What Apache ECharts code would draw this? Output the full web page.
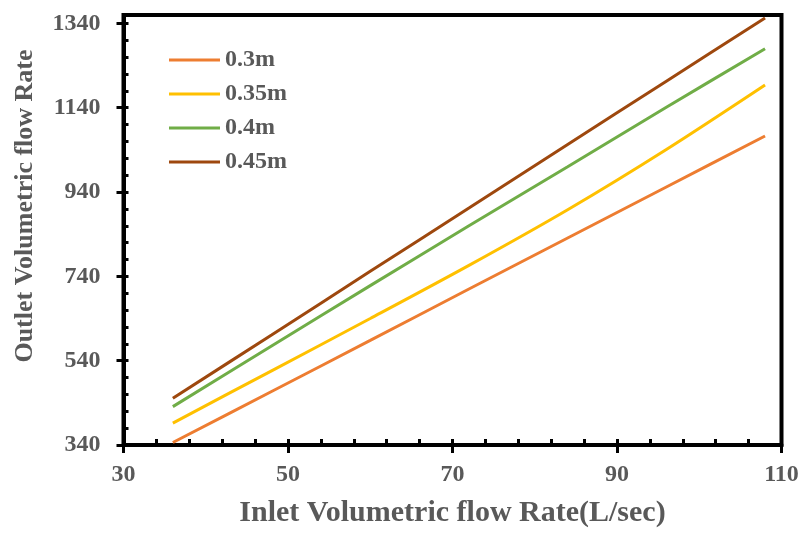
<!DOCTYPE html>
<html><head><meta charset="utf-8">
<script src="https://cdn.jsdelivr.net/npm/echarts@6/dist/echarts.min.js"></script>
<style>html,body{margin:0;padding:0;background:#fff}#c{width:803px;height:533px}</style>
</head><body><div id="c"></div>
<script>
const xValues = [36, 48, 60, 72, 84, 96, 108];
const s030 = [346, 467, 588, 710, 831, 952, 1073];
const s035 = [392, 516, 640, 766, 898, 1041, 1194];
const s040 = [431, 575, 718, 860, 1000, 1141, 1280];
const s045 = [451, 601, 752, 902, 1053, 1203, 1353];
const seriesNames = ['0.3m', '0.35m', '0.4m', '0.45m'];
const seriesColors = ['#ED7D31', '#FFC000', '#70AD47', '#9E480E'];
const xTicks = [30, 50, 70, 90, 110];
const yTicks = [340, 540, 740, 940, 1140, 1340];
const xTitle = 'Inlet Volumetric flow Rate(L/sec)';
const yTitle = 'Outlet Volumetric flow Rate';

const font = 'Liberation Serif';
const grey = '#595959';
const allData = [s030, s035, s040, s045];

const chart = echarts.init(document.getElementById('c'));
chart.setOption({
  animation: false,
  backgroundColor: '#fff',
  grid: { left: 123.5, right: 21.5, top: 15, bottom: 86, show: true, borderColor: '#000', borderWidth: 4, backgroundColor: 'transparent' },
  legend: {
    left: 164, top: 43, orient: 'vertical', icon: 'rect', itemWidth: 51, itemHeight: 3, itemGap: 10,
    textStyle: { fontFamily: font, fontWeight: 'bold', fontSize: 24, color: grey, lineHeight: 24 },
    data: seriesNames
  },
  xAxis: [{
    type: 'value', position: 'bottom', min: xTicks[0], max: xTicks[xTicks.length - 1], interval: 20,
    splitLine: { show: false },
    axisLine: { lineStyle: { color: '#000', width: 4 } },
    axisTick: { inside: false, length: 8, lineStyle: { color: '#000', width: 3 }, customValues: xTicks },
    axisLabel: { margin: 18, fontFamily: font, fontWeight: 'bold', fontSize: 24, color: grey, customValues: xTicks, formatter: v => String(v) },
    name: xTitle, nameLocation: 'middle', nameGap: 53,
    nameTextStyle: { fontFamily: font, fontWeight: 'bold', fontSize: 30, color: grey }
  }, {
    type: 'value', position: 'bottom', min: xTicks[0], max: xTicks[xTicks.length - 1], interval: 4,
    splitLine: { show: false }, axisLine: { show: false }, axisLabel: { show: false },
    axisTick: { inside: true, length: 6, lineStyle: { color: '#000', width: 3 } }
  }],
  yAxis: [{
    type: 'value', position: 'left', min: 340, max: 1360, interval: 200,
    splitLine: { show: false },
    axisLine: { lineStyle: { color: '#000', width: 4 } },
    axisTick: { inside: false, length: 7, lineStyle: { color: '#000', width: 3 }, customValues: yTicks },
    axisLabel: { margin: 23, fontFamily: font, fontWeight: 'bold', fontSize: 24, color: grey, customValues: yTicks, formatter: v => String(v) },
    name: yTitle, nameLocation: 'middle', nameGap: 85,
    nameTextStyle: { fontFamily: font, fontWeight: 'bold', fontSize: 26, color: grey, padding: [0, 0, 0, 48] }
  }, {
    type: 'value', position: 'left', min: 340, max: 1360, interval: 40,
    splitLine: { show: false }, axisLine: { show: false }, axisLabel: { show: false },
    axisTick: { inside: true, length: 5, lineStyle: { color: '#000', width: 3 } }
  }],
  series: allData.map((d, i) => ({
    name: seriesNames[i], type: 'line', xAxisIndex: 0, yAxisIndex: 0,
    showSymbol: false, symbol: 'none', smooth: 0.3,
    data: xValues.map((x, j) => [x, d[j]]),
    lineStyle: { color: seriesColors[i], width: 3 },
    itemStyle: { color: seriesColors[i] }
  }))
});
</script></body></html>
